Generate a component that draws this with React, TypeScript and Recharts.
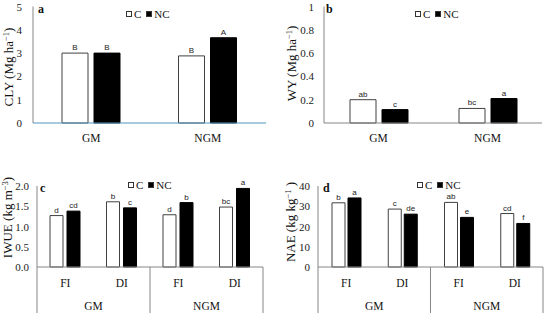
import React from 'react';
import { BarChart, Bar, XAxis, YAxis, LabelList, Legend } from 'recharts';

// ---------- data ----------
const yieldCategories = ['GM', 'NGM'];
const clyC = [3.0, 2.88];
const clyNC = [3.0, 3.66];
const clyCLetters = ['B', 'B'];
const clyNCLetters = ['B', 'A'];
const clyTicks = [0, 1, 2, 3, 4, 5];

const wyC = [0.2, 0.125];
const wyNC = [0.115, 0.21];
const wyCLetters = ['ab', 'bc'];
const wyNCLetters = ['c', 'a'];
const wyTicks = [0, 0.2, 0.4, 0.6, 0.8, 1];

const irrigation = ['FI', 'DI', 'FI', 'DI'];
const manure = ['GM', 'GM', 'NGM', 'NGM'];

const iwueC = [1.27, 1.61, 1.29, 1.48];
const iwueNC = [1.38, 1.46, 1.59, 1.94];
const iwueCLetters = ['d', 'b', 'd', 'bc'];
const iwueNCLetters = ['cd', 'c', 'b', 'a'];
const iwueTicks = [0, 0.5, 1.0, 1.5, 2.0];

const naeC = [31.7, 28.6, 31.9, 26.4];
const naeNC = [34.1, 26.1, 24.5, 21.5];
const naeCLetters = ['b', 'c', 'ab', 'cd'];
const naeNCLetters = ['a', 'de', 'e', 'f'];
const naeTicks = [0, 10, 20, 30, 40];

const buildSimple = (c: number[], nc: number[], cl: string[], ncl: string[]) =>
  yieldCategories.map((cat, i) => ({ cat, c: c[i], nc: nc[i], cl: cl[i], ncl: ncl[i] }));

const buildMulti = (c: number[], nc: number[], cl: string[], ncl: string[]) =>
  irrigation.map((irr, i) => ({ irr, grp: manure[i], c: c[i], nc: nc[i], cl: cl[i], ncl: ncl[i] }));

const clyData = buildSimple(clyC, clyNC, clyCLetters, clyNCLetters);
const wyData = buildSimple(wyC, wyNC, wyCLetters, wyNCLetters);
const iwueData = buildMulti(iwueC, iwueNC, iwueCLetters, iwueNCLetters);
const naeData = buildMulti(naeC, naeNC, naeCLetters, naeNCLetters);

// ---------- styles ----------
const SERIF = 'Liberation Serif, serif';
const SANS = 'Liberation Sans, sans-serif';
const AXIS_GRAY = '#868686';
const BLUE = '#4e95bd';

const SimpleTick = (props: any) => {
  const { x, y, payload } = props;
  return (
    <text x={x} y={y + 19} textAnchor="middle" fontSize={11.5} fontFamily={SERIF} fill="#111">
      {payload.value}
    </text>
  );
};

const makeYTick = (fmt: (v: number) => string) => (props: any) => {
  const { x, y, payload } = props;
  return (
    <text x={x} y={y + 4} textAnchor="end" fontSize={11} fontFamily={SERIF} fill="#222">
      {fmt(payload.value)}
    </text>
  );
};

const plainFmt = (v: number) => String(v);
const oneDecFmt = (v: number) => v.toFixed(1);

const makeMultiTick = (groups: string[]) => (props: any) => {
  const { x, y, payload, index, width, visibleTicksCount } = props;
  const bw = width / visibleTicksCount;
  const els: React.ReactNode[] = [];
  els.push(
    <text key="l" x={x} y={y + 20} textAnchor="middle" fontSize={11.5} fontFamily={SERIF} fill="#111">
      {payload.value}
    </text>
  );
  if (index === 0) {
    els.push(<line key="d0" x1={x - bw / 2} x2={x - bw / 2} y1={y} y2={y + 46} stroke={AXIS_GRAY} strokeWidth={1} />);
  }
  if (index % 2 === 1) {
    els.push(<line key="d1" x1={x + bw / 2} x2={x + bw / 2} y1={y} y2={y + 46} stroke={AXIS_GRAY} strokeWidth={1} />);
  }
  if (index % 2 === 0) {
    els.push(
      <text key="g" x={x + bw / 2} y={y + 42.5} textAnchor="middle" fontSize={11.5} fontFamily={SERIF} fill="#111">
        {groups[index]}
      </text>
    );
  }
  return <g>{els}</g>;
};

const LegendContent = (props: any) => {
  const { payload } = props;
  return (
    <div style={{ display: 'flex', alignItems: 'center', fontFamily: SERIF, fontSize: 11, lineHeight: '12px', whiteSpace: 'nowrap', color: '#111' }}>
      {(payload || []).map((entry: any, i: number) => (
        <span key={i} style={{ display: 'flex', alignItems: 'center', marginLeft: i === 0 ? 0 : 5, fontFamily: SERIF }}>
          <span
            style={{
              display: 'inline-block',
              width: 4,
              height: 4,
              background: entry.payload?.fill ?? entry.color,
              border: '1px solid #333',
              marginRight: 2,
            }}
          />
          {entry.value}
        </span>
      ))}
    </div>
  );
};

const yLabel = (x: number, y: number, main: string, sup: string, tail: string) => (
  <text transform={`translate(${x},${y}) rotate(-90)`} textAnchor="middle" fontSize={13} fontFamily={SERIF} fill="#111">
    {main}
    <tspan dy={-4.5} fontSize={8.5}>{sup}</tspan>
    <tspan dy={4.5}>{tail}</tspan>
  </text>
);

const panelLetter = (x: number, y: number, t: string) => (
  <text x={x} y={y} fontSize={12} fontWeight="bold" fontFamily={SERIF} fill="#111">
    {t}
  </text>
);

const barLabelProps = { fontSize: 8, fontFamily: SANS, fill: '#222' };

export default function App() {
  return (
    <div style={{ position: 'absolute', left: 0, top: 0, width: 550, height: 317, background: '#fff', overflow: 'hidden' }}>
      {/* Panel a */}
      <div style={{ position: 'absolute', left: 0, top: 0 }}>
        <BarChart width={275} height={150} data={clyData} margin={{ top: 6.5, right: 9, left: 8, bottom: 7 }} barGap={6}>
          <XAxis dataKey="cat" height={20} tickLine={false} tickSize={0} tickMargin={0} stroke={BLUE} tick={SimpleTick} />
          <YAxis
            width={25}
            domain={[0, 5]}
            ticks={clyTicks}
            interval={0}
            tickLine={false}
            tickSize={9}
            tickMargin={2}
            stroke={AXIS_GRAY}
            tick={makeYTick(plainFmt)}
          />
          <Legend verticalAlign="middle" align="center" layout="horizontal" content={LegendContent} wrapperStyle={{ left: 126, top: 8, width: 'auto' }} />
          <Bar dataKey="c" name="C" fill="#ffffff" stroke="#404040" strokeWidth={1} barSize={26} isAnimationActive={false}>
            <LabelList dataKey="cl" position="top" offset={3} {...barLabelProps} />
          </Bar>
          <Bar dataKey="nc" name="NC" fill="#000000" stroke="#000000" strokeWidth={1} barSize={26} isAnimationActive={false}>
            <LabelList dataKey="ncl" position="top" offset={3} {...barLabelProps} />
          </Bar>
          {yLabel(13, 67, 'CLY (Mg ha', '−1', ')')}
          {panelLetter(38, 12.5, 'a')}
        </BarChart>
      </div>

      {/* Panel b */}
      <div style={{ position: 'absolute', left: 275, top: 0 }}>
        <BarChart width={275} height={150} data={wyData} margin={{ top: 6.5, right: 8, left: 8, bottom: 7 }} barGap={6}>
          <XAxis dataKey="cat" height={20} tickLine={false} tickSize={0} tickMargin={0} stroke={AXIS_GRAY} tick={SimpleTick} />
          <YAxis
            width={41}
            domain={[0, 1]}
            ticks={wyTicks}
            interval={0}
            tickLine={false}
            tickSize={8}
            tickMargin={2}
            stroke={AXIS_GRAY}
            tick={makeYTick(plainFmt)}
          />
          <Legend verticalAlign="middle" align="center" layout="horizontal" content={LegendContent} wrapperStyle={{ left: 140, top: 8, width: 'auto' }} />
          <Bar dataKey="c" name="C" fill="#ffffff" stroke="#404040" strokeWidth={1} barSize={26} isAnimationActive={false}>
            <LabelList dataKey="cl" position="top" offset={3} {...barLabelProps} />
          </Bar>
          <Bar dataKey="nc" name="NC" fill="#000000" stroke="#000000" strokeWidth={1} barSize={26} isAnimationActive={false}>
            <LabelList dataKey="ncl" position="top" offset={3} {...barLabelProps} />
          </Bar>
          {yLabel(21, 63.5, 'WY (Mg ha', '−1', ')')}
          {panelLetter(51, 13, 'b')}
        </BarChart>
      </div>

      {/* Panel c */}
      <div style={{ position: 'absolute', left: 0, top: 160 }}>
        <BarChart width={275} height={157} data={iwueData} margin={{ top: 26, right: 12, left: 8, bottom: 2 }} barGap={4}>
          <XAxis dataKey="irr" height={48} tickLine={false} tickSize={0} tickMargin={0} stroke={AXIS_GRAY} tick={makeMultiTick(manure)} interval={0} />
          <YAxis
            width={29}
            domain={[0, 2]}
            ticks={iwueTicks}
            interval={0}
            tickLine={false}
            tickSize={6}
            tickMargin={2}
            stroke={AXIS_GRAY}
            tick={makeYTick(oneDecFmt)}
          />
          <Legend verticalAlign="middle" align="center" layout="horizontal" content={LegendContent} wrapperStyle={{ left: 128, top: 19, width: 'auto' }} />
          <Bar dataKey="c" name="C" fill="#ffffff" stroke="#404040" strokeWidth={1} barSize={13} isAnimationActive={false}>
            <LabelList dataKey="cl" position="top" offset={3} {...barLabelProps} />
          </Bar>
          <Bar dataKey="nc" name="NC" fill="#000000" stroke="#000000" strokeWidth={1} barSize={13} isAnimationActive={false}>
            <LabelList dataKey="ncl" position="top" offset={3} {...barLabelProps} />
          </Bar>
          {yLabel(12, 57.5, 'IWUE (kg m', '−3', ')')}
          {panelLetter(40, 32, 'c')}
        </BarChart>
      </div>

      {/* Panel d */}
      <div style={{ position: 'absolute', left: 275, top: 160 }}>
        <BarChart width={275} height={157} data={naeData} margin={{ top: 26, right: 7, left: 8, bottom: 2 }} barGap={3}>
          <XAxis dataKey="irr" height={48} tickLine={false} tickSize={0} tickMargin={0} stroke={AXIS_GRAY} tick={makeMultiTick(manure)} interval={0} />
          <YAxis
            width={35}
            domain={[0, 40]}
            ticks={naeTicks}
            interval={0}
            tickLine={false}
            tickSize={6}
            tickMargin={2}
            stroke={AXIS_GRAY}
            tick={makeYTick(plainFmt)}
          />
          <Legend verticalAlign="middle" align="center" layout="horizontal" content={LegendContent} wrapperStyle={{ left: 142, top: 19, width: 'auto' }} />
          <Bar dataKey="c" name="C" fill="#ffffff" stroke="#404040" strokeWidth={1} barSize={13} isAnimationActive={false}>
            <LabelList dataKey="cl" position="top" offset={3} {...barLabelProps} />
          </Bar>
          <Bar dataKey="nc" name="NC" fill="#000000" stroke="#000000" strokeWidth={1} barSize={13} isAnimationActive={false}>
            <LabelList dataKey="ncl" position="top" offset={3} {...barLabelProps} />
          </Bar>
          {yLabel(20, 62, 'NAE (kg kg', '−1', ' )')}
          {panelLetter(48, 32, 'd')}
        </BarChart>
      </div>
    </div>
  );
}
